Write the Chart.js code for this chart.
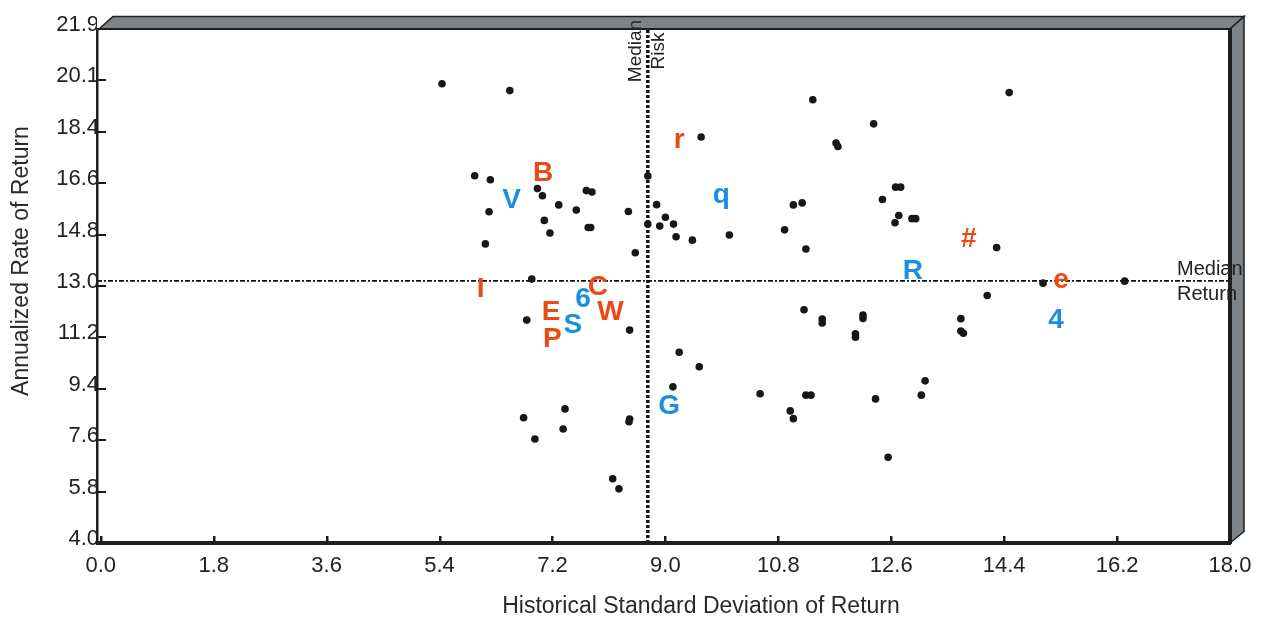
<!DOCTYPE html>
<html>
<head>
<meta charset="utf-8">
<script src="https://cdn.jsdelivr.net/npm/chart.js@4.4.1/dist/chart.umd.min.js"></script>
<style>
  html, body { margin: 0; padding: 0; background: #fff; }
  #wrap { width: 1261px; height: 618px; }
</style>
</head>
<body>
<div id="wrap"><canvas id="riskChart" width="1261" height="618"></canvas></div>
<script>
// ===== Data =====
const xTickLabels = ["0.0", "1.8", "3.6", "5.4", "7.2", "9.0", "10.8", "12.6", "14.4", "16.2", "18.0"];
const yTickLabels = ["4.0", "5.8", "7.6", "9.4", "11.2", "13.0", "14.8", "16.6", "18.4", "20.1", "21.9"];
const xMin = -0.06, xMax = 18.0;
const yMin = 4.0, yMax = 21.94;

const medianRisk = 8.72;
const medianReturn = 13.15;

// unlabeled funds: risk (std dev) / return
const fundRisk = [
  5.44, 6.52, 5.96, 6.21, 6.96, 7.04, 7.74, 7.83, 7.30, 7.58,
  6.19, 8.41, 8.72, 8.86, 9.00, 8.72, 8.91, 9.13, 9.17, 9.43,
  7.07, 7.16, 7.77, 7.81, 6.13, 8.52, 6.87, 6.79, 8.43, 9.22,
  9.57, 11.35, 14.48, 12.32, 11.72, 11.75, 12.67, 12.75, 12.46, 11.04,
  11.18, 12.72, 12.66, 12.93, 12.99, 10.02, 10.90, 11.24, 14.28, 15.02,
  16.32, 14.13, 11.21, 11.50, 11.50, 12.15, 12.15, 12.03, 12.03, 13.71,
  13.71, 13.75, 9.54, 13.14, 10.51, 11.24, 11.32, 12.35, 13.08, 10.99,
  11.04, 12.55, 9.12, 6.74, 7.40, 6.92, 7.37, 8.43, 8.42, 8.16,
  8.26
];
const fundReturn = [
  20.03, 19.79, 16.82, 16.68, 16.37, 16.12, 16.30, 16.25, 15.80, 15.62,
  15.56, 15.57, 16.81, 15.81, 15.37, 15.13, 15.06, 15.13, 14.69, 14.57,
  15.26, 14.82, 15.01, 15.01, 14.44, 14.13, 13.21, 11.78, 11.43, 10.66,
  18.17, 19.47, 19.72, 18.63, 17.96, 17.84, 16.42, 16.42, 15.99, 15.80,
  15.87, 15.43, 15.18, 15.32, 15.32, 14.75, 14.93, 14.26, 14.31, 13.07,
  13.14, 12.64, 12.14, 11.82, 11.68, 11.96, 11.84, 11.30, 11.18, 11.83,
  11.40, 11.32, 10.15, 9.66, 9.21, 9.16, 9.16, 9.03, 9.16, 8.61,
  8.34, 6.99, 9.45, 8.37, 8.68, 7.63, 7.98, 8.33, 8.23, 6.24,
  5.89
];

// highlighted funds (orange group)
const orangeCodes  = ["r", "B", "I", "C", "E", "W", "P", "#", "e"];
const orangeRisk   = [9.23, 7.05, 6.05, 7.93, 7.18, 8.13, 7.20, 13.84, 15.31];
const orangeReturn = [18.04, 16.97, 12.93, 12.99, 12.11, 12.11, 11.18, 14.68, 13.16];

// highlighted funds (blue group)
const blueCodes  = ["V", "q", "6", "S", "G", "R", "4"];
const blueRisk   = [6.55, 9.89, 7.69, 7.52, 9.06, 12.95, 15.23];
const blueReturn = [16.04, 16.04, 12.58, 11.65, 8.85, 13.56, 11.85];

const xTitle = "Historical Standard Deviation of Return";
const yTitle = "Annualized Rate of Return";

// ===== Helpers =====
const FONT = '"Liberation Sans", Arial, Helvetica, sans-serif';
const pts = (xs, ys) => xs.map((x, i) => ({ x, y: ys[i] }));

// letters drawn centred (by ink) on their data point
const lettersPlugin = {
  id: "letters",
  afterDatasetsDraw(chart) {
    const ctx = chart.ctx;
    chart.data.datasets.forEach((ds, di) => {
      if (!ds.codes) return;
      const meta = chart.getDatasetMeta(di);
      ctx.save();
      ctx.font = "bold 28px " + FONT;
      ctx.fillStyle = ds.codeColor;
      ctx.textAlign = "left";
      ctx.textBaseline = "alphabetic";
      meta.data.forEach((p, i) => {
        const t = ds.codes[i];
        const m = ctx.measureText(t);
        const x0 = p.x - (m.actualBoundingBoxRight - m.actualBoundingBoxLeft) / 2;
        const y0 = p.y - (m.actualBoundingBoxDescent - m.actualBoundingBoxAscent) / 2;
        ctx.fillText(t, x0, y0);
      });
      ctx.restore();
    });
  }
};

// axis lines, inner ticks, 3-D frame, median captions, axis titles
const framePlugin = {
  id: "frame",
  afterDraw(chart) {
    const ctx = chart.ctx;
    const a = chart.chartArea;
    const xs = chart.scales.x, ys = chart.scales.y;
    ctx.save();

    // ticks
    ctx.fillStyle = "#1a1a1a";
    xs.ticks.forEach(t => {
      const px = Math.round(xs.getPixelForValue(t.value));
      ctx.fillRect(px - 1, a.bottom - 7, 2.5, 7);
    });
    ys.ticks.forEach(t => {
      const py = Math.round(ys.getPixelForValue(t.value));
      ctx.fillRect(a.left, py - 1, 9, 2);
    });

    // axis lines
    ctx.fillStyle = "#1e1e1e";
    ctx.fillRect(a.left - 1, a.top, 2.5, a.bottom - a.top + 2);
    ctx.fillRect(a.left - 1, a.bottom - 2, a.right - a.left + 2, 4);

    // 3-D frame: top band and right band
    const d = 14;
    ctx.fillStyle = "#7d8386";
    ctx.strokeStyle = "#1e1e1e";
    ctx.lineWidth = 1.5;
    ctx.beginPath();
    ctx.moveTo(a.left + 2, a.top);
    ctx.lineTo(a.left + 2 + d, a.top - 12.5);
    ctx.lineTo(a.right + d, a.top - 12.5);
    ctx.lineTo(a.right, a.top);
    ctx.closePath();
    ctx.fill(); ctx.stroke();
    ctx.beginPath();
    ctx.moveTo(a.right, a.top);
    ctx.lineTo(a.right + d, a.top - 12.5);
    ctx.lineTo(a.right + d, a.bottom - 11.5);
    ctx.lineTo(a.right, a.bottom);
    ctx.closePath();
    ctx.fill(); ctx.stroke();
    ctx.fillStyle = "#1e1e1e";
    ctx.fillRect(a.left, a.top - 1, a.right - a.left, 2);
    ctx.fillRect(a.right - 2, a.top - 1, 4, a.bottom - a.top + 2);

    // median return caption (runs over the frame edge)
    ctx.fillStyle = "#222";
    ctx.font = "20px " + FONT;
    ctx.textAlign = "left";
    ctx.textBaseline = "middle";
    const my = ys.getPixelForValue(medianReturn);
    ctx.fillText("Median", a.right - 53, my - 11);
    ctx.fillText("Return", a.right - 53, my + 14);

    // median risk caption (rotated, over the band)
    const mx = xs.getPixelForValue(medianRisk);
    ctx.font = "19px " + FONT;
    ctx.textAlign = "center";
    ctx.save();
    ctx.translate(mx - 12, a.top + 22);
    ctx.rotate(-Math.PI / 2);
    ctx.fillText("Median", 0, 0);
    ctx.fillText("Risk", 0, 23);
    ctx.restore();

    // axis titles
    ctx.fillStyle = "#2a2a2a";
    ctx.font = "23px " + FONT;
    ctx.textAlign = "center";
    ctx.textBaseline = "middle";
    ctx.fillText(xTitle, 701, 607);
    ctx.save();
    ctx.translate(22, 261);
    ctx.rotate(-Math.PI / 2);
    ctx.fillText(yTitle, 0, 0);
    ctx.restore();

    ctx.restore();
  }
};

// ===== Chart =====
const ctx = document.getElementById("riskChart").getContext("2d");
new Chart(ctx, {
  type: "scatter",
  data: {
    datasets: [
      {
        label: "Funds",
        data: pts(fundRisk, fundReturn),
        pointRadius: 3.8,
        pointHoverRadius: 3.8,
        backgroundColor: "#171717",
        borderWidth: 0
      },
      {
        label: "Orange",
        data: pts(orangeRisk, orangeReturn),
        pointRadius: 0,
        codes: orangeCodes,
        codeColor: "#ea4a14"
      },
      {
        label: "Blue",
        data: pts(blueRisk, blueReturn),
        pointRadius: 0,
        codes: blueCodes,
        codeColor: "#1b8ee0"
      },
      {
        type: "line",
        label: "Median Risk",
        data: [{ x: medianRisk, y: yMin }, { x: medianRisk, y: yMax }],
        borderColor: "#111",
        borderWidth: 3.5,
        borderDash: [3, 2],
        pointRadius: 0,
        fill: false
      },
      {
        type: "line",
        label: "Median Return",
        data: [{ x: xMin, y: medianReturn }, { x: xMax, y: medianReturn }],
        borderColor: "#111",
        borderWidth: 1.6,
        borderDash: [5, 2, 2, 2],
        pointRadius: 0,
        fill: false
      }
    ]
  },
  options: {
    responsive: false,
    animation: false,
    devicePixelRatio: 1,
    layout: { padding: { left: 0, right: 31, top: 29, bottom: 0 } },
    plugins: {
      legend: { display: false },
      tooltip: { enabled: false }
    },
    scales: {
      x: {
        type: "linear",
        min: xMin,
        max: xMax,
        afterBuildTicks: s => { s.ticks = xTickLabels.map(l => ({ value: parseFloat(l) })); },
        afterFit: s => { s.height = 75; },
        grid: { display: false },
        border: { display: false },
        ticks: {
          autoSkip: false,
          maxRotation: 0,
          padding: 2,
          color: "#222",
          font: { family: FONT, size: 22 },
          callback: (v, i) => xTickLabels[i]
        }
      },
      y: {
        type: "linear",
        min: yMin,
        max: yMax,
        afterBuildTicks: s => {
          const n = yTickLabels.length - 1;
          s.ticks = yTickLabels.map((l, i) => ({ value: yMin + i * (yMax - yMin) / n }));
        },
        afterFit: s => { s.width = 97; },
        grid: { display: false },
        border: { display: false },
        ticks: {
          autoSkip: false,
          padding: -10,
          labelOffset: -4,
          color: "#222",
          font: { family: FONT, size: 22 },
          callback: (v, i) => yTickLabels[i]
        }
      }
    }
  },
  plugins: [lettersPlugin, framePlugin]
});
</script>
</body>
</html>
